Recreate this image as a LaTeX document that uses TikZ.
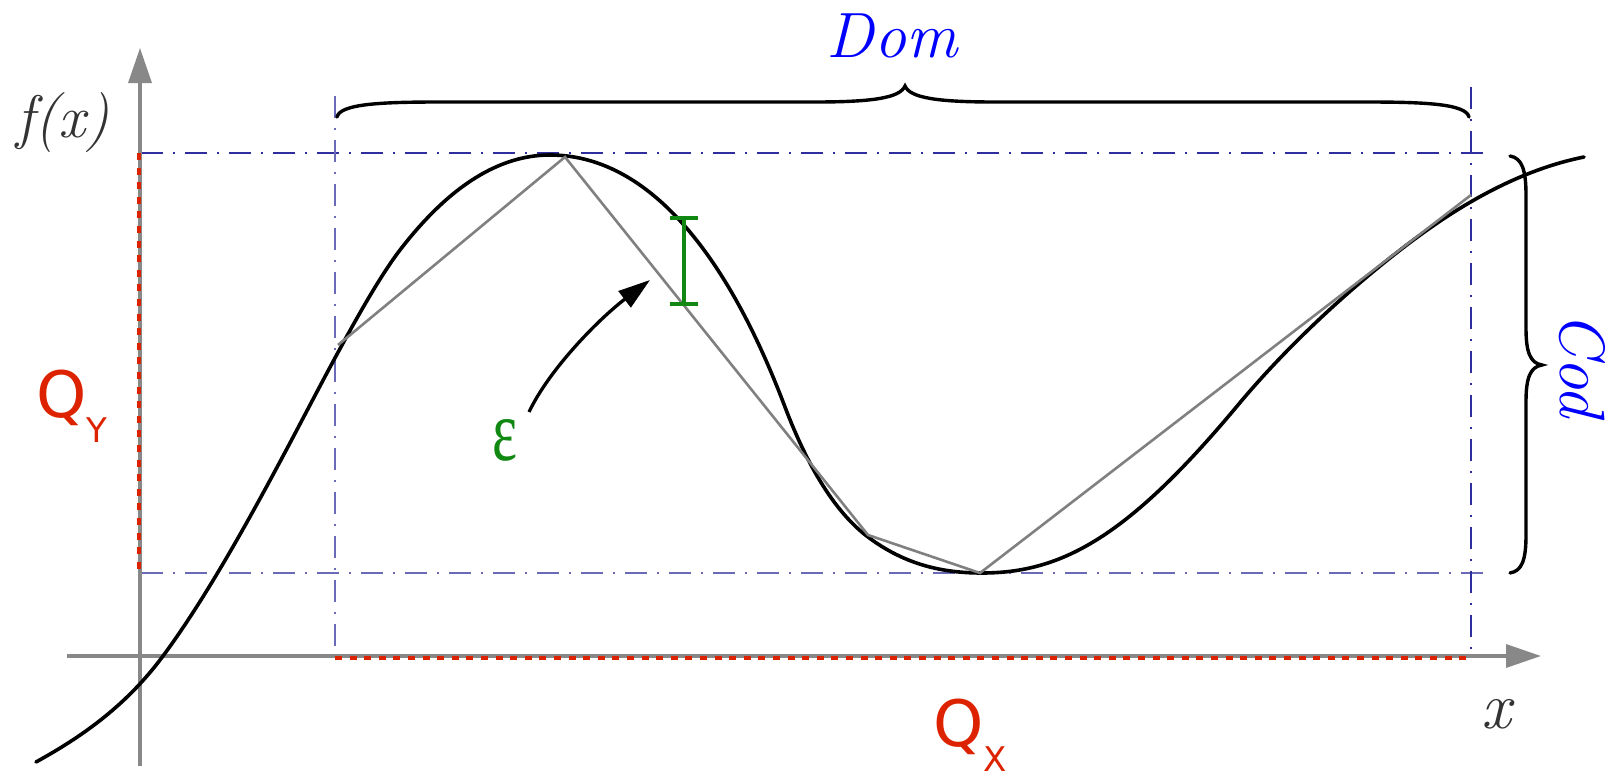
\documentclass[tikz,border=0pt]{standalone}
\usepackage{fontspec}
\usepackage{graphicx}
\usetikzlibrary{arrows.meta}
\newfontfamily\dejasans{DejaVu Sans}
\newfontfamily\libserif{Liberation Serif}
\definecolor{axisgray}{HTML}{888888}
\definecolor{qred}{HTML}{DD2200}
\definecolor{guideA}{HTML}{2E2E9E}
\definecolor{guideB}{HTML}{6A6AB8}
\definecolor{epsgreen}{HTML}{118811}
\definecolor{labgray}{HTML}{333333}
\definecolor{polygray}{HTML}{808080}
\tikzset{
  axisline/.style={draw=axisgray, line width=1.7pt, -{Triangle[length=17.5pt,width=11.5pt]}},
  qdash/.style={draw=qred, line width=1.7pt, dash pattern=on 3.5pt off 3.8pt},
  guideline/.style={line width=0.7pt, dash pattern=on 11pt off 5pt on 1pt off 5pt},
  curveline/.style={draw=black, line width=1.8pt, line cap=round},
  polyline/.style={draw=polygray, line width=1.3pt},
  bracepath/.style={draw=black, line width=1.7pt, line cap=round},
  errbar/.style={draw=epsgreen, line width=1.7pt},
  epsarrow/.style={draw=black, line width=1.65pt, -{Triangle[length=16pt,width=10pt]}},
  txt/.style={inner sep=0pt, outer sep=0pt},
}
\begin{document}
\begin{tikzpicture}[x=0.5pt,y=-0.5pt]
\useasboundingbox (0,0) rectangle (1613,776);

% guide lines (dash-dot)
\draw[guideline, draw=guideA] (141,153) -- (1490,153);
\draw[guideline, draw=guideB] (141,573) -- (1492,573);
\draw[guideline, draw=guideB] (335,96) -- (335,656);
\draw[guideline, draw=guideA] (1471,87) -- (1471,656);

% axes
\coordinate (ybot) at (140,766);
\coordinate (ytop) at (140,48);
\coordinate (xleft) at (67,656);
\coordinate (xright) at (1541,656);
\draw[axisline] (ybot) -- (ytop);
\draw[axisline] (xleft) -- (xright);

% Q ranges
\draw[qdash] (139,153) -- (139,572);
\draw[qdash] (335,658) -- (1470,658);

% function curve
\draw[curveline] (36,762)
  .. controls (86,734.5) and (128,703.25) .. (163,656)
  .. controls (208,595.25) and (255,509.5) .. (300,424)
  .. controls (333,361.3) and (372,286.4) .. (400,250)
  .. controls (450,185) and (500,155) .. (550,155)
  .. controls (680,155) and (755,328) .. (785,407)
  .. controls (810,472.75) and (838,514.5) .. (868,537)
  .. controls (906,565.5) and (944,573) .. (982,573)
  .. controls (1062,573) and (1128,537) .. (1238,405)
  .. controls (1298,333) and (1375,266.5) .. (1430,228)
  .. controls (1481.3,192.1) and (1532.7,167.3) .. (1584,157);

% piecewise linear approximation
\coordinate (p1) at (338,345);
\coordinate (p2) at (565,157);
\coordinate (p3) at (868,535);
\coordinate (p4) at (980,573);
\coordinate (p5) at (1471,195);
\draw[polyline, line join=miter] (p1) -- (p2) -- (p3) -- (p4) -- (p5);

% error bar
\coordinate (et) at (684,218);
\coordinate (eb) at (684,304);
\draw[errbar] (et) -- (eb);
\draw[errbar] ([xshift=-7pt]et) -- ([xshift=7pt]et);
\draw[errbar] ([xshift=-7pt]eb) -- ([xshift=7pt]eb);

% epsilon label and arrow
\node[txt, text=epsgreen] (eps) at (505,440) {\resizebox{12.5pt}{20.5pt}{\libserif ε}};
\coordinate (epstail) at (529,412);
\coordinate (epstip) at (650,280);
\draw[epsarrow] (epstail) .. controls (550,368) and (600,318) .. (epstip);

% Dom brace
\draw[bracepath] (337,117) .. controls (340,104) and (380,102) .. (440,102)
  -- (815,102) .. controls (872,102) and (900,98) .. (905,86)
  .. controls (910,98) and (938,102) .. (995,102)
  -- (1366,102) .. controls (1426,102) and (1466,104) .. (1469,117);
\node[txt, text=blue, anchor=base] (dom) at (892,57) {\fontsize{32pt}{32pt}\selectfont\itshape Dom};

% Cod brace
\draw[bracepath] (1510,156) .. controls (1522,158) and (1526,170) .. (1526,195)
  -- (1526,328) .. controls (1526,352) and (1530,363) .. (1542,365)
  .. controls (1530,367) and (1526,378) .. (1526,402)
  -- (1526,535) .. controls (1526,560) and (1522,571) .. (1510,573);
\node[txt, text=blue, anchor=base, rotate=-90] (cod) at (1560,365) {\fontsize{32pt}{32pt}\selectfont\itshape Cod};

% axis labels
\node[txt, text=labgray, anchor=base] (fx) at (63,137) {\fontsize{30pt}{30pt}\selectfont\itshape f(x)};
\node[txt, text=labgray, anchor=base] (xl) at (1496,728) {\fontsize{33pt}{33pt}\selectfont\itshape x};

% Q labels
\node[txt, text=qred, anchor=base west] (qy) at (36,417) {\dejasans\fontsize{32pt}{32pt}\selectfont Q\raisebox{-12.5pt}{\fontsize{17pt}{17pt}\selectfont Y}};
\node[txt, text=qred, anchor=base west] (qx) at (933,746) {\dejasans\fontsize{32pt}{32pt}\selectfont Q\raisebox{-12.5pt}{\fontsize{17pt}{17pt}\selectfont X}};
\end{tikzpicture}
\end{document}
